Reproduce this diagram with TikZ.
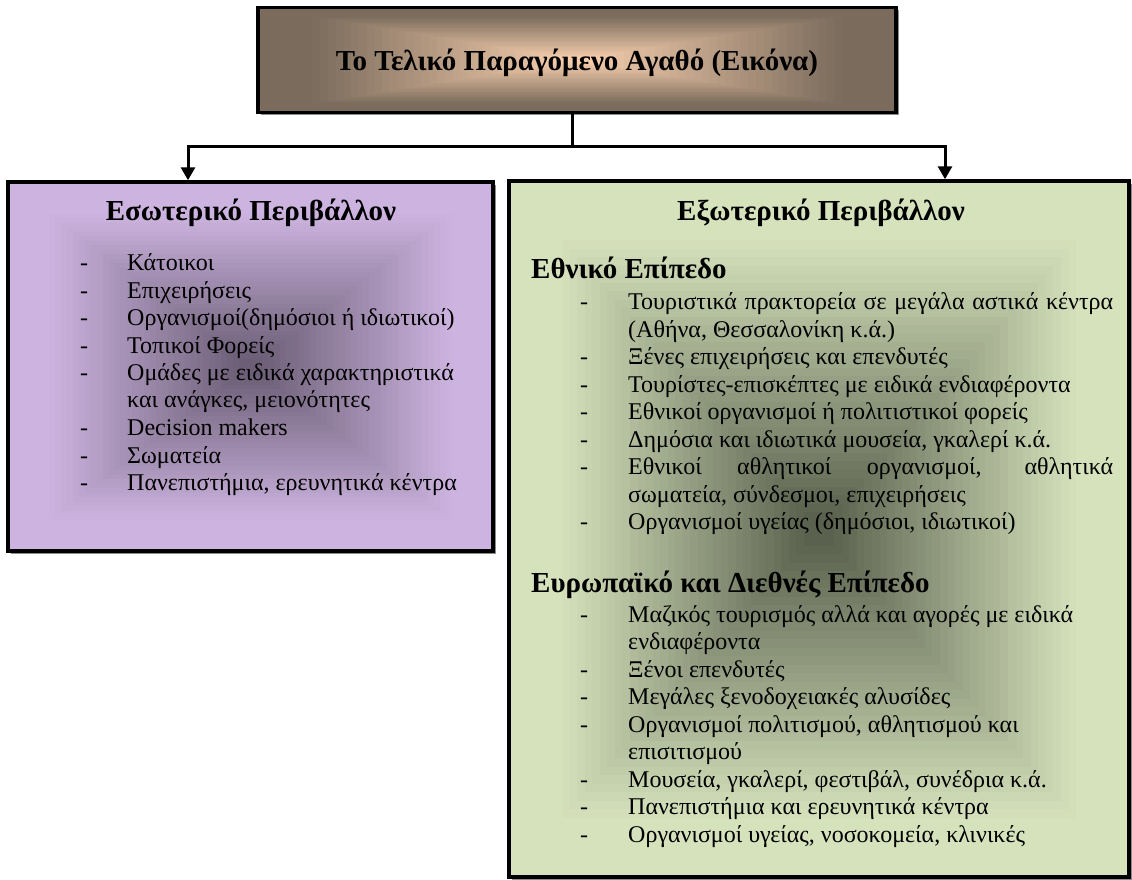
\documentclass[tikz,border=0pt]{standalone}
\usepackage{fontspec}
\setmainfont{Liberation Serif}
\usepackage{xcolor}
\usepackage{tikz}
\usetikzlibrary{calc}
\usetikzlibrary{positioning}
\usetikzlibrary{arrows.meta}
\usetikzlibrary{shadows}

\definecolor{topedge}{RGB}{122,107,92}
\definecolor{topmid}{RGB}{245,205,172}
\definecolor{inedge}{RGB}{205,180,224}
\definecolor{inmid}{RGB}{108,94,118}
\definecolor{outedge}{RGB}{214,226,188}
\definecolor{outmid}{RGB}{90,97,78}

\begin{document}
\begin{tikzpicture}[x=1pt, y=-1pt]

        \useasboundingbox (0,0) rectangle (1132,879);

        % Boxes filled from the centre outwards, in bands
        \tikzset{
            gradbox/.style 2 args={rectangle, draw=black, line width=3.5pt,
                inner sep=0pt,
                drop shadow={shadow xshift=2.5pt, shadow yshift=-2.5pt,
                    fill=black!45, opacity=1},
                path picture={
                    \foreach \i in {0,...,40}{
                        \pgfmathsetmacro\t{\i/41}
                        \pgfmathtruncatemacro\p{min(100,max(0,(\t-0.15)/0.8*100))}
                        \fill[#2!\p!#1]
                        ($(path picture bounding box.north west)!\t!(path picture bounding box.center)$)
                        rectangle
                        ($(path picture bounding box.south east)!\t!(path picture bounding box.center)$);
                    }
                }},
            itemtxt/.style={anchor=base west, inner sep=0pt,
                font=\fontsize{24}{28}\selectfont},
            headtxt/.style={anchor=base west, inner sep=0pt,
                font=\fontsize{29}{33}\selectfont\bfseries},
            titletxt/.style={anchor=base, inner sep=0pt,
                font=\fontsize{29}{33}\selectfont\bfseries},
            link/.style={line width=3pt},
            linkarrow/.style={line width=3pt,
                -{Triangle[width=14pt,length=13pt]}}
        }

        \node[gradbox={topedge}{topmid}, minimum width=638pt,
            minimum height=105pt] (topbox) at (577,60) {};
        \node[gradbox={inedge}{inmid}, minimum width=485pt,
            minimum height=369pt] (inbox) at (250.5,366.5) {};
        \node[gradbox={outedge}{outmid}, minimum width=620pt,
            minimum height=696pt] (outbox) at (819,529) {};

        \node[titletxt] (toptitle) at (577,70)
        {Το Τελικό Παραγόμενο Αγαθό (Εικόνα)};

        % Internal environment
        \node[titletxt] (intitle) at (251,220) {Εσωτερικό Περιβάλλον};
        \foreach \y [count=\k] in {270,298,325,353,380,435,463,490}
            \node[itemtxt] (indash\k) at (80,\y) {-};
        \foreach \y/\t [count=\k] in {270/Κάτοικοι, 298/Επιχειρήσεις,
            325/{Οργανισμοί(δημόσιοι ή ιδιωτικοί)}, 353/Τοπικοί Φορείς,
            380/Ομάδες με ειδικά χαρακτηριστικά,
            407/{και ανάγκες, μειονότητες}, 435/Decision makers,
            463/Σωματεία, 490/{Πανεπιστήμια, ερευνητικά κέντρα}}
            \node[itemtxt] (in\k) at (127,\y) {\t};

        % External environment
        \node[titletxt] (outtitle) at (821,220) {Εξωτερικό Περιβάλλον};
        \node[headtxt] (natl) at (531,278) {Εθνικό Επίπεδο};
        \node[headtxt] (intl) at (531,592) {Ευρωπαϊκό και Διεθνές Επίπεδο};
        \foreach \y [count=\k] in {309,364,392,419,447,474,529,
            622,677,704,732,787,814,842}
            \node[itemtxt] (outdash\k) at (580,\y) {-};
        \foreach \y/\t [count=\k] in {
            309/{\makebox[485pt][s]{Τουριστικά πρακτορεία σε μεγάλα αστικά κέντρα}},
            337/{(Αθήνα, Θεσσαλονίκη κ.ά.)},
            364/Ξένες επιχειρήσεις και επενδυτές,
            392/Τουρίστες-επισκέπτες με ειδικά ενδιαφέροντα,
            419/Εθνικοί οργανισμοί ή πολιτιστικοί φορείς,
            447/{Δημόσια και ιδιωτικά μουσεία, γκαλερί κ.ά.},
            474/{\makebox[485pt][s]{Εθνικοί αθλητικοί οργανισμοί, αθλητικά}},
            502/{σωματεία, σύνδεσμοι, επιχειρήσεις},
            529/{Οργανισμοί υγείας (δημόσιοι, ιδιωτικοί)}}
            \node[itemtxt] (natl\k) at (628,\y) {\t};
        \foreach \y/\t [count=\k] in {
            622/Μαζικός τουρισμός αλλά και αγορές με ειδικά,
            649/ενδιαφέροντα,
            677/Ξένοι επενδυτές,
            704/Μεγάλες ξενοδοχειακές αλυσίδες,
            732/{Οργανισμοί πολιτισμού, αθλητισμού και},
            759/επισιτισμού,
            787/{Μουσεία, γκαλερί, φεστιβάλ, συνέδρια κ.ά.},
            814/Πανεπιστήμια και ερευνητικά κέντρα,
            842/{Οργανισμοί υγείας, νοσοκομεία, κλινικές}}
            \node[itemtxt] (intl\k) at (628,\y) {\t};

        % Connectors
        \coordinate (split) at (572,146);
        \coordinate (lturn) at (188,146);
        \coordinate (rturn) at (945,146);
        \draw[link] (topbox.south -| split) -- (split);
        \draw[linkarrow] (split) -- (lturn) -- (lturn |- inbox.north);
        \draw[linkarrow] (split) -- (rturn) -- (rturn |- outbox.north);

\end{tikzpicture}
\end{document}
